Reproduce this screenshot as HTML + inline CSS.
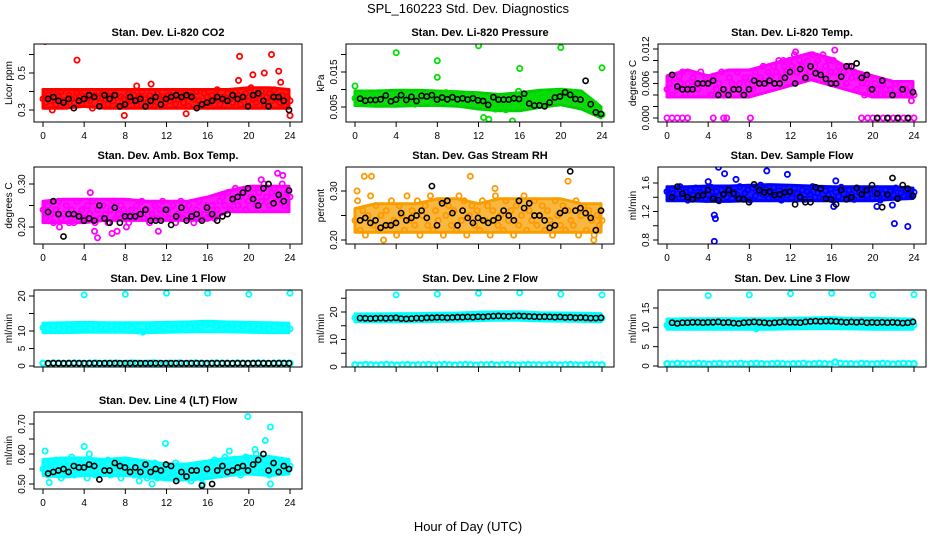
<!DOCTYPE html>
<html><head><meta charset="utf-8"><style>
html,body{margin:0;padding:0;background:#fff}
svg{display:block;font-family:"Liberation Sans",sans-serif}
</style></head><body>
<svg id="chart" width="936" height="540" viewBox="0 0 936 540"></svg>
<script>
// ---------- DATA ----------
const bandHours=[0,2,4,6,8,10,12,14,16,18,20,22,24];

const co2Vals=[.36,.34,.38,.35,.39,.33,.37,.40,.35,.32,.38,.36,.34,.39,.37,.33,.40,.36,.35,.31,.38,.37,.34,.39,.36,.33,.40,.35,.38,.32,.37,.36,.34,.39,.35,.38,.33,.37,.40,.36,.34,.38,.35,.32,.39,.36,.37,.34,.38,.35,.40,.33,.36,.39,.34,.37,.32,.38,.36,.40,.35,.33,.39,.37,.34,.38,.36,.41,.33,.37,.35,.39,.36,.34,.40,.38,.33,.37,.39,.35,.42,.36,.34,.38,.40,.33,.37,.39,.35,.41,.36,.34,.38,.32,.37,.35];
const co2Lo=[.32,.32,.33,.32,.32,.32,.32,.32,.32,.32,.32,.32,.32];
const co2Hi=[.40,.40,.40,.40,.40,.40,.40,.40,.40,.40,.41,.41,.40];
const co2Out=[[0.2,.67],[3.3,.57],[7.9,.27],[13.9,.28],[19.1,.59],[19,.46],[22.2,.60],[22.9,.51],[21.5,.50],[20.4,.49],[24,.27],[9.1,.43],[10.5,.44],[23.1,.45],[0.9,.30]];
const co2Black=[.36,.37,.35,.34,.36,.31,.35,.36,.38,.37,.32,.38,.36,.38,.32,.33,.37,.35,.36,.32,.35,.37,.33,.36,.37,.38,.37,.38,.37,.31,.33,.34,.35,.37,.36,.35,.38,.36,.37,.32,.38,.39,.35,.32,.37,.37,.35,.30];

const presVals=[.0075,.0062,.0081,.0068,.0090,.0070,.0058,.0078,.0085,.0064,.0072,.0088,.0066,.0079,.0060,.0083,.0071,.0086,.0063,.0077,.0092,.0069,.0080,.0058,.0074,.0089,.0065,.0082,.0070,.0087,.0061,.0076,.0084,.0066,.0079,.0091,.0062,.0075,.0087,.0068,.0080,.0059,.0073,.0085,.0064,.0078,.0070,.0082,.0060,.0072,.0048,.0068,.0055,.0077,.0044,.0065,.0058,.0070,.0042,.0063,.0075,.0050,.0067,.0056,.0062,.0074,.0053,.0080,.0066,.0071,.0085,.0060,.0078,.0090,.0068,.0082,.0074,.0093,.0079,.0088,.0095,.0078,.0086,.0070,.0091,.0074,.0082,.0065,.0076,.0058,.0068,.0050,.0060,.0042,.0035,.0028];
const presLo=[.0060,.0058,.0058,.0060,.0060,.0058,.0050,.0045,.0045,.0055,.0062,.0050,.0025];
const presHi=[.0090,.0090,.0092,.0092,.0090,.0088,.0085,.0080,.0085,.0092,.0095,.0090,.0045];
const presOut=[[0,.011],[4,.0205],[8,.0182],[8,.0135],[12,.0225],[16,.016],[20,.022],[24,.0162],[12.5,.002],[13,.0015],[15.3,.001],[15.9,.0095]];
const presBlack=[.0074,.0068,.0070,.0070,.0072,.0083,.0066,.0071,.0084,.0070,.0079,.0067,.0082,.0080,.0084,.0071,.0077,.0072,.0078,.0072,.0075,.0071,.0075,.0069,.0067,.0056,.0078,.0071,.0071,.0071,.0075,.0073,.0088,.0060,.0054,.0055,.0052,.0063,.0077,.0080,.0092,.0085,.0073,.0071,.0125,.0058,.0035,.0030];

const tempVals=[.005,.006,.004,.007,.005,.006,.008,.004,.006,.005,.007,.006,.005,.008,.006,.007,.006,.004,.007,.005,.006,.008,.005,.004,.007,.006,.005,.008,.006,.004,.007,.006,.007,.005,.008,.006,.007,.009,.006,.008,.007,.009,.008,.010,.007,.009,.008,.010,.009,.011,.008,.010,.009,.007,.010,.008,.011,.009,.010,.008,.011,.009,.010,.008,.010,.008,.009,.007,.008,.006,.009,.007,.008,.005,.007,.006,.004,.006,.005,.004,.006,.005,.004,.006,.005,.004,.005,.004,.006,.004,.005,.004,.005,.004,.003,.004];
const tempLo=[.004,.004,.004,.004,.004,.005,.006,.007,.006,.005,.004,.004,.004];
const tempHi=[.007,.008,.007,.008,.008,.009,.010,.011,.010,.008,.007,.006,.006];
const tempOut=[[0,0],[0.5,0],[1,0],[1.5,0],[2,0],[4.5,0],[5.5,0],[5.8,0],[8.1,0],[18.9,0],[19.5,0],[20,0],[20.5,0],[21,0],[21.5,0],[22,0],[22.5,0],[23,0],[23.5,0],[24,0],[12.5,.0115],[16.3,.0118],[15.8,.010],[11.3,.010],[0.3,.007],[1.2,.0072]];
const tempBlack=[.0075,.0055,.0050,.0050,.0050,.0060,.0060,.0060,.0065,.0040,.0050,.0040,.0050,.0050,.0040,.0050,.0065,.0060,.0060,.0065,.0060,.0060,.0070,.0080,.0060,.0085,.0070,.0090,.0078,.0075,.0068,.0060,.0060,.0072,.0090,.0090,.0095,.0070,.0075,.0050,0,.0065,0,.0040,0,.0050,0,.0045];

const ambVals=[.24,.22,.25,.23,.21,.24,.26,.22,.23,.25,.21,.24,.22,.26,.23,.24,.22,.25,.23,.26,.21,.24,.22,.25,.23,.21,.24,.26,.22,.23,.25,.24,.23,.21,.24,.22,.25,.23,.26,.22,.24,.21,.23,.25,.22,.24,.26,.23,.24,.22,.25,.21,.23,.26,.22,.24,.25,.23,.21,.24,.26,.22,.23,.25,.23,.25,.22,.24,.26,.27,.25,.28,.24,.26,.29,.25,.27,.28,.24,.26,.27,.29,.25,.28,.26,.30,.27,.25,.28,.29,.26,.27,.30,.25,.28,.27];
const ambLo=[.215,.215,.215,.22,.22,.22,.22,.22,.22,.24,.24,.24,.24];
const ambHi=[.255,.26,.26,.26,.26,.255,.255,.255,.265,.28,.29,.29,.29];
const ambOut=[[4.6,.28],[5,.19],[5.3,.175],[6.7,.185],[7.2,.19],[8.1,.20],[1.6,.20],[23.3,.32],[22.8,.325],[21.2,.31],[3,.21],[11.2,.19]];
const ambBlack=[.235,.26,.23,.178,.23,.23,.225,.215,.22,.215,.25,.22,.21,.245,.21,.225,.225,.225,.23,.24,.215,.215,.215,.24,.205,.225,.245,.215,.225,.23,.215,.245,.23,.215,.225,.23,.265,.27,.28,.29,.265,.25,.29,.30,.255,.275,.26,.285];

const rhVals=[.24,.28,.22,.26,.21,.25,.29,.23,.27,.22,.25,.20,.26,.23,.28,.24,.21,.27,.25,.22,.29,.24,.26,.23,.28,.21,.25,.27,.23,.29,.22,.26,.24,.28,.21,.25,.27,.23,.26,.22,.29,.24,.28,.21,.25,.27,.23,.26,.22,.28,.24,.27,.21,.26,.29,.23,.25,.22,.28,.24,.26,.21,.27,.23,.25,.29,.22,.26,.24,.28,.23,.25,.27,.22,.26,.24,.21,.28,.25,.23,.27,.22,.26,.24,.23,.28,.21,.25,.27,.22,.26,.24,.21,.25,.23,.24];
const rhLo=[.22,.22,.22,.22,.22,.22,.22,.22,.22,.22,.22,.22,.22];
const rhHi=[.26,.27,.27,.27,.28,.28,.27,.28,.28,.28,.28,.27,.27];
const rhOut=[[0.9,.33],[1.6,.33],[11.2,.33],[15.4,.36],[20.7,.32],[23.2,.20],[0.2,.30],[13.6,.305]];
const rhBlack=[.24,.245,.235,.24,.225,.23,.23,.235,.255,.24,.245,.25,.26,.245,.31,.23,.275,.28,.255,.23,.26,.245,.235,.245,.24,.235,.24,.245,.26,.25,.24,.28,.265,.275,.25,.25,.24,.225,.23,.255,.26,.34,.26,.265,.255,.245,.22,.26];

const flowVals=[1.48,1.42,1.52,1.38,1.45,1.55,1.40,1.47,1.36,1.50,1.43,1.53,1.39,1.46,1.51,1.37,1.44,1.54,1.41,1.48,1.35,1.50,1.45,1.40,1.52,1.38,1.47,1.43,1.55,1.39,1.46,1.50,1.36,1.53,1.42,1.48,1.57,1.44,1.51,1.38,1.46,1.54,1.40,1.49,1.36,1.52,1.43,1.47,1.39,1.53,1.45,1.41,1.50,1.37,1.48,1.44,1.55,1.40,1.46,1.51,1.38,1.49,1.43,1.52,1.36,1.47,1.41,1.54,1.45,1.39,1.50,1.44,1.37,1.53,1.46,1.40,1.49,1.43,1.51,1.38,1.47,1.52,1.36,1.45,1.50,1.41,1.48,1.44,1.53,1.39,1.46,1.42,1.49,1.45,1.43,1.47];
const flowLo=[1.38,1.38,1.37,1.37,1.38,1.38,1.38,1.38,1.38,1.38,1.38,1.40,1.41];
const flowHi=[1.52,1.52,1.53,1.53,1.54,1.55,1.54,1.53,1.52,1.52,1.52,1.52,1.50];
const flowOut=[[4.6,.78],[4.7,1.10],[4.6,1.15],[5,1.82],[5.6,1.73],[6.7,1.65],[9.7,1.77],[11.7,1.72],[16.2,1.27],[16.4,1.63],[20.4,1.27],[22.1,1.03],[23.4,.99],[21.9,1.29],[4,1.62]];
const flowBlack=[1.40,1.55,1.45,1.40,1.37,1.42,1.43,1.50,1.38,1.36,1.44,1.50,1.45,1.38,1.37,1.33,1.58,1.50,1.47,1.48,1.43,1.44,1.47,1.48,1.30,1.40,1.33,1.33,1.54,1.52,1.38,1.37,1.30,1.50,1.37,1.40,1.53,1.44,1.50,1.57,1.45,1.26,1.44,1.67,1.38,1.57,1.52,1.42];

const l1Vals=[11.0,10.6,11.5,10.8,11.2,10.5,11.4,10.9,11.3,10.7,11.6,11.0,10.8,11.4,10.6,11.2,11.5,10.9,10.0,9.7,11.3,10.8,11.5,11.1,11.6,10.9,11.3,11.7,11.0,11.5,11.2,11.8,12.0,11.4,11.7,11.1,11.5,10.9,11.3,11.0,11.4,10.8,11.2,10.7,11.3,10.9,11.1,10.6];
const l1Lo=[10.1,10.1,10.2,10.2,10.2,10.1,10.2,10.3,10.4,10.3,10.2,10.1,10.1];
const l1Hi=[11.7,11.8,11.9,11.8,11.8,11.8,11.9,12.0,12.2,12.0,11.9,11.8,11.7];
const l1Low=[.8,.7,.9,.8,.7,.8,.9,.8,.7,.8,.9,.7,.8,.8,.9,.7,.8,.9,.8,.7,.8,.9,.8,.7,.8,.8,.9,.7,.8,.9,.8,.7,.8,.9,.8,.8,.7,.9,.8,.7,.8,.9,.8,.7,.8,.9,.8,.8];
const l1Out=[[4,20.3],[8,20.5],[12,20.8],[16,20.8],[20,20.5],[24,20.8]];
const l1Black=[.8,.8,.8,.8,.8,.8,.8,.8,.8,.8,.8,.8,.8,.8,.8,.8,.8,.8,.8,.8,.8,.8,.8,.8,.8,.8,.8,.8,.8,.8,.8,.8,.8,.8,.8,.8,.8,.8,.8,.8,.8,.8,.8,.8,.8,.8,.8,.8];

const l2Vals=[17.9,18.3,17.6,18.1,17.8,18.4,17.7,18.2,17.9,18.3,17.6,18.0,18.2,17.8,18.4,18.0,18.3,17.9,18.5,18.1,18.4,18.0,18.6,18.2,18.7,18.3,18.9,18.5,18.8,18.4,19.0,18.6,18.8,18.4,18.7,18.3,18.6,18.1,18.4,18.0,18.3,17.9,18.2,17.8,18.1,17.9,18.2,17.8];
const l2Lo=[17.2,17.2,17.2,17.2,17.3,17.4,17.6,17.8,17.7,17.5,17.4,17.3,17.2];
const l2Hi=[18.6,18.6,18.7,18.7,18.8,18.9,19.2,19.3,19.3,19.0,18.9,18.8,18.7];
const l2Low=[.8,.7,.9,.8,.7,.8,.9,.8,.7,.8,.9,.7,.8,.8,.9,.7,.8,.9,.8,.7,.8,.9,.8,.7,.8,.8,.9,.7,.8,.9,.8,.7,.8,.9,.8,.8,.7,.9,.8,.7,.8,.9,.8,.7,.8,.9,.8,.8];
const l2Out=[[4,26.2],[8,26.5],[12,26.8],[16,27.0],[20,26.5],[24,26.2]];
const l2Black=[17.8,17.7,17.6,17.7,17.8,17.7,17.8,17.9,17.6,17.5,17.6,17.8,17.7,17.9,17.9,18.0,18.0,17.9,18.0,18.1,18.1,18.2,18.1,18.3,18.2,18.4,18.5,18.6,18.5,18.4,18.6,18.6,18.5,18.4,18.3,18.2,18.3,18.2,18.1,18.2,18.0,18.1,17.9,18.0,17.9,17.8,17.8,17.9];

const l3Vals=[10.5,11.1,10.3,10.9,10.6,11.2,10.4,10.8,11.0,10.5,11.2,10.7,10.9,10.4,11.1,10.6,10.3,9.6,10.5,11.0,10.7,11.2,10.6,11.0,10.8,11.3,10.7,11.1,10.9,11.4,10.8,11.2,11.5,10.9,11.2,10.8,11.3,10.6,11.0,10.7,11.2,10.5,10.9,10.6,11.1,10.4,10.8,10.6];
const l3Lo=[10.0,10.0,10.0,10.0,10.0,10.0,10.1,10.2,10.2,10.1,10.0,10.0,10.0];
const l3Hi=[11.6,11.7,11.7,11.7,11.7,11.7,11.8,11.9,12.0,11.8,11.8,11.7,11.6];
const l3Low=[.6,.5,.7,.6,.5,.6,.7,.6,.5,.6,.7,.5,.6,.6,.7,.5,.6,.7,.6,.5,.6,.7,.6,.5,.6,.6,.7,.5,.6,.7,.6,.5,1.0,.7,.6,.6,.5,.7,.6,.5,.6,.7,.6,.5,.6,.7,.6,.6];
const l3Out=[[4,18.2],[8,18.4],[12,18.7],[16,18.8],[20,18.4],[24,18.5]];
const l3Black=[11.2,11.0,11.2,11.2,11.3,11.3,11.2,11.3,11.3,11.4,11.2,11.3,11.1,11.0,11.2,11.3,11.4,11.3,11.2,11.1,11.2,11.3,11.4,11.3,11.3,11.2,11.4,11.5,11.6,11.5,11.6,11.6,11.5,11.4,11.3,11.4,11.3,11.4,11.2,11.3,11.2,11.3,11.2,11.3,11.2,11.1,11.2,11.4];

const l4Vals=[.55,.57,.53,.56,.54,.58,.55,.52,.57,.54,.56,.59,.53,.55,.57,.54,.56,.52,.58,.55,.53,.57,.54,.56,.55,.58,.53,.56,.54,.57,.52,.55,.57,.54,.56,.53,.55,.51,.54,.56,.52,.55,.53,.57,.52,.54,.56,.53,.55,.52,.54,.57,.53,.55,.52,.56,.54,.51,.55,.53,.56,.52,.54,.55,.53,.56,.58,.54,.57,.55,.59,.56,.54,.58,.55,.57,.53,.56,.59,.55,.58,.56,.60,.57,.54,.58,.56,.53,.57,.55,.58,.54,.56,.57,.55,.56];
const l4Lo=[.535,.53,.535,.535,.535,.53,.52,.52,.525,.535,.54,.535,.54];
const l4Hi=[.575,.58,.58,.575,.58,.57,.56,.56,.57,.58,.585,.585,.575];
const l4Out=[[0.2,.61],[4,.625],[4.5,.60],[11.9,.635],[19.9,.725],[22.1,.69],[21.6,.645],[20.6,.615],[18.1,.61],[10.6,.50],[15.5,.50],[0.6,.505],[22.1,.50]];
const l4Black=[.535,.54,.545,.55,.54,.56,.555,.555,.565,.56,.515,.545,.545,.57,.56,.555,.54,.555,.54,.565,.54,.55,.545,.565,.56,.51,.54,.525,.545,.545,.495,.55,.50,.545,.56,.54,.545,.555,.56,.545,.565,.58,.60,.545,.57,.54,.56,.55];

// ---------- LAYOUT ----------
const NS='http://www.w3.org/2000/svg';
const svg=document.getElementById('chart');
const colX0=[43,355,667], boxTop=[44,167,290,412], boxBot=[122,244,367,489];
const PXH=247/24;
function mk(tag,attrs,parent){const e=document.createElementNS(NS,tag);for(const k in attrs)e.setAttribute(k,attrs[k]);(parent||svg).appendChild(e);return e;}

const panels=[
 {n:'co2',title:'Stan. Dev. Li-820 CO2',c:0,r:0,ylab:'Licor ppm',ref:[.3,110,.5,73],ticks:[.3,.4,.5,.6],labs:['0.3','','0.5',''],xl:true,col:'#ff0000',fill:'#ff0000',vals:co2Vals,lo:co2Lo,hi:co2Hi,out:co2Out,black:co2Black},
 {n:'pressure',title:'Stan. Dev. Li-820 Pressure',c:1,r:0,ylab:'kPa',ref:[.005,107,.015,72],ticks:[.005,.01,.015,.02],labs:['0.005','','0.015',''],xl:true,col:'#00e000',fill:'#00d000',vals:presVals,lo:presLo,hi:presHi,out:presOut,black:presBlack},
 {n:'temp',title:'Stan. Dev. Li-820 Temp.',c:2,r:0,ylab:'degrees C',ref:[0,118,.012,49],ticks:[0,.002,.004,.006,.008,.01,.012],labs:['0.000','','','0.006','','','0.012'],xl:true,col:'#ff00ff',fill:'#ff00ff',vals:tempVals,lo:tempLo,hi:tempHi,out:tempOut,black:tempBlack},
 {n:'amb-temp',title:'Stan. Dev. Amb. Box Temp.',c:0,r:1,ylab:'degrees C',ref:[.2,227,.3,184],ticks:[.2,.25,.3],labs:['0.20','','0.30'],xl:true,col:'#ff00ff',fill:'#ff00ff',vals:ambVals,lo:ambLo,hi:ambHi,out:ambOut,black:ambBlack},
 {n:'rh',title:'Stan. Dev. Gas Stream RH',c:1,r:1,ylab:'percent',ref:[.2,240,.3,191],ticks:[.2,.25,.3],labs:['0.20','','0.30'],xl:false,col:'#ff9900',fill:'#f5a000',vals:rhVals,lo:rhLo,hi:rhHi,out:rhOut,black:rhBlack},
 {n:'sample-flow',title:'Stan. Dev. Sample Flow',c:2,r:1,ylab:'ml/min',ref:[.8,240,1.6,183],ticks:[.8,1,1.2,1.4,1.6],labs:['0.8','','1.2','','1.6'],xl:true,col:'#0000ff',fill:'#0000ff',vals:flowVals,lo:flowLo,hi:flowHi,out:flowOut,black:flowBlack},
 {n:'line1',title:'Stan. Dev. Line 1 Flow',c:0,r:2,ylab:'ml/min',ref:[0,366,20,296],ticks:[0,5,10,15,20],labs:['0','5','10','','20'],xl:false,col:'#00ffff',fill:'#00ffff',vals:l1Vals,lo:l1Lo,hi:l1Hi,low:l1Low,out:l1Out,black:l1Black},
 {n:'line2',title:'Stan. Dev. Line 2 Flow',c:1,r:2,ylab:'ml/min',ref:[0,367,20,312],ticks:[0,5,10,15,20,25],labs:['0','','10','','20',''],xl:false,col:'#00ffff',fill:'#00ffff',vals:l2Vals,lo:l2Lo,hi:l2Hi,low:l2Low,out:l2Out,black:l2Black},
 {n:'line3',title:'Stan. Dev. Line 3 Flow',c:2,r:2,ylab:'ml/min',ref:[0,366,15,308],ticks:[0,5,10,15],labs:['0','5','10','15'],xl:false,col:'#00ffff',fill:'#00ffff',vals:l3Vals,lo:l3Lo,hi:l3Hi,low:l3Low,out:l3Out,black:l3Black},
 {n:'line4',title:'Stan. Dev. Line 4 (LT) Flow',c:0,r:3,ylab:'ml/min',ref:[.5,484,.7,424],ticks:[.5,.55,.6,.65,.7],labs:['0.50','','0.60','','0.70'],xl:true,col:'#00ffff',fill:'#00ffff',vals:l4Vals,lo:l4Lo,hi:l4Hi,out:l4Out,black:l4Black}
];

function dot(g,x,y,color,w){
  const e=mk('circle',{cx:x.toFixed(1),cy:y.toFixed(1),r:2.6,fill:'none',stroke:color,'stroke-width':w},g);
  
  
}

const t=mk('text',{x:468,y:13,'text-anchor':'middle','font-size':13,fill:'#000'});
t.textContent='SPL_160223  Std. Dev. Diagnostics';

const xt=mk('text',{x:468,y:531,'text-anchor':'middle','font-size':13,fill:'#000'});
xt.textContent='Hour of Day (UTC)';


panels.forEach(p=>{
  const g=mk('g',{});
  
  
  const x0=colX0[p.c], top=boxTop[p.r], bot=boxBot[p.r];
  const L=x0-9, R=x0+259;
  const [v0,p0,v1,p1]=p.ref;
  const ys=v=>p0+(v-v0)*(p1-p0)/(v1-v0);
  const xs=h=>x0+h*PXH;
  const clip='clip-'+p.n;
  const cp=mk('clipPath',{id:clip},g);mk('rect',{x:L,y:top,width:R-L,height:bot-top},cp);
  const pg=mk('g',{'clip-path':'url(#'+clip+')'},g);
  
  
  // dense band of points
  let pts=[];
  bandHours.forEach((h,i)=>pts.push(xs(Math.min(h,23.9)).toFixed(1)+','+(ys(p.hi[i])-2).toFixed(1)));
  for(let i=bandHours.length-1;i>=0;i--)pts.push(xs(Math.min(bandHours[i],23.9)).toFixed(1)+','+(ys(p.lo[i])+2).toFixed(1));
  const band=mk('polygon',{points:pts.join(' '),fill:p.fill,'fill-opacity':p.n==='rh'?0.75:0.9,stroke:p.fill,'stroke-width':3,'stroke-linejoin':'round'},pg);
  
  
  const n=p.vals.length;
  p.vals.forEach((v,i)=>dot(pg,xs(i*24/(n-1)),ys(v),p.col,1.8));
  if(p.low){const m=p.low.length;p.low.forEach((v,i)=>dot(pg,xs(i*24/(m-1)),ys(v),p.col,2.2));}
  p.out.forEach(o=>dot(pg,xs(o[0]),ys(o[1]),p.col,1.8));
  const nb=p.black.length;
  p.black.forEach((v,i)=>dot(pg,xs(0.5+i*23.4/(nb-1)),ys(v),'#000',1.6));
  const box=mk('rect',{x:L,y:top,width:R-L,height:bot-top,fill:'none',stroke:'#000','stroke-width':1},g);
  
  const tt=mk('text',{x:(L+R)/2,y:top-8,'text-anchor':'middle','font-size':11,'font-weight':'bold',fill:'#000'},g);
  tt.textContent=p.title;
  
  for(let h=0;h<=24;h+=4){
    mk('line',{x1:xs(h),x2:xs(h),y1:bot,y2:bot+5,stroke:'#000'},g);
    if(p.xl){const lt=mk('text',{x:xs(h),y:bot+17,'text-anchor':'middle','font-size':10,fill:'#000'},g);lt.textContent=h;
      }
  }
  p.ticks.forEach((v,i)=>{
    const y=ys(v);
    mk('line',{x1:L-5,x2:L,y1:y,y2:y,stroke:'#000'},g);
    if(p.labs[i]){const lt=mk('text',{x:L-9,y:y,'text-anchor':'middle','font-size':10,fill:'#000',transform:`rotate(-90 ${L-9} ${y})`},g);lt.textContent=p.labs[i];
      }
  });
  const yl=mk('text',{x:L-22,y:(top+bot)/2,'text-anchor':'middle','font-size':10,fill:'#000',transform:`rotate(-90 ${L-22} ${(top+bot)/2})`},g);
  yl.textContent=p.ylab;
  
});
</script>
</body></html>
